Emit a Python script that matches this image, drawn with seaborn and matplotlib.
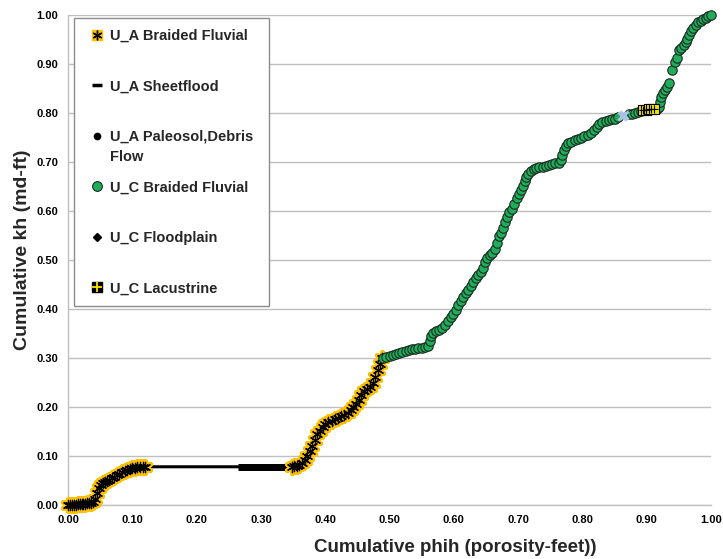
import matplotlib
matplotlib.use("Agg")
import matplotlib.pyplot as plt
from matplotlib.lines import Line2D
from matplotlib.legend_handler import HandlerTuple
import pandas as pd
import seaborn as sns

# ---- cumulative phih / kh per facies ----
ua_braided_phih = [0.000, 0.003, 0.006, 0.009, 0.012, 0.015, 0.018, 0.021, 0.024, 0.027,
                   0.030, 0.033, 0.036, 0.039, 0.042, 0.045, 0.048, 0.051, 0.054, 0.057,
                   0.060, 0.064, 0.068, 0.072, 0.076, 0.080, 0.084, 0.088, 0.092, 0.096,
                   0.100, 0.104, 0.108, 0.112, 0.116, 0.120,
                   0.348, 0.352, 0.356, 0.360, 0.364, 0.368, 0.372, 0.376, 0.380, 0.384,
                   0.388, 0.392, 0.396, 0.400, 0.405, 0.410, 0.415, 0.420, 0.425, 0.430,
                   0.435, 0.440, 0.444, 0.448, 0.452, 0.456, 0.460, 0.465, 0.470, 0.474,
                   0.478, 0.482, 0.485, 0.488]
ua_braided_kh = [0.000, 0.000, 0.001, 0.001, 0.001, 0.002, 0.002, 0.002, 0.003, 0.003,
                 0.004, 0.004, 0.005, 0.007, 0.012, 0.025, 0.035, 0.040, 0.044, 0.047,
                 0.049, 0.052, 0.055, 0.058, 0.061, 0.064, 0.067, 0.069, 0.071, 0.073,
                 0.075, 0.076, 0.077, 0.078, 0.078, 0.078,
                 0.078, 0.079, 0.080, 0.081, 0.085, 0.092, 0.100, 0.110, 0.120, 0.132,
                 0.145, 0.152, 0.160, 0.166, 0.170, 0.172, 0.175, 0.178, 0.181, 0.184,
                 0.188, 0.193, 0.199, 0.206, 0.215, 0.224, 0.232, 0.236, 0.240, 0.250,
                 0.262, 0.276, 0.288, 0.300]

ua_sheet_phih = [0.272, 0.276, 0.280, 0.284, 0.288, 0.292, 0.296, 0.300, 0.304, 0.308,
                 0.312, 0.316, 0.320, 0.324, 0.328, 0.332, 0.336, 0.340, 0.344]
ua_sheet_kh = [0.077, 0.077, 0.077, 0.077, 0.077, 0.077, 0.077, 0.077, 0.077, 0.077,
               0.078, 0.078, 0.078, 0.078, 0.078, 0.078, 0.078, 0.078, 0.078]

uc_braided_phih = [0.490, 0.495, 0.500, 0.505, 0.510, 0.515, 0.520, 0.525, 0.530, 0.535,
                   0.540, 0.545, 0.550, 0.555, 0.560, 0.563, 0.565, 0.568, 0.572, 0.577,
                   0.582, 0.587, 0.591, 0.595, 0.599, 0.603, 0.607, 0.611, 0.615, 0.619,
                   0.622, 0.626, 0.630, 0.634, 0.638, 0.642, 0.646, 0.649, 0.652, 0.656,
                   0.660, 0.664, 0.667, 0.670, 0.673, 0.677, 0.680, 0.683, 0.686, 0.690,
                   0.694, 0.698, 0.701, 0.704, 0.707, 0.710, 0.713, 0.716, 0.720, 0.724,
                   0.728, 0.733, 0.738, 0.743, 0.748, 0.753, 0.758, 0.763, 0.767, 0.769,
                   0.772, 0.775, 0.778, 0.783, 0.788, 0.793, 0.798, 0.803, 0.808, 0.813,
                   0.818, 0.822, 0.826, 0.831, 0.836, 0.841, 0.846, 0.851, 0.856,
                   0.872, 0.877, 0.882, 0.887, 0.891,
                   0.916, 0.919, 0.921, 0.923, 0.926, 0.929, 0.932, 0.935, 0.939, 0.944,
                   0.947, 0.950, 0.954, 0.958, 0.961, 0.963, 0.966, 0.969, 0.972, 0.976,
                   0.980, 0.984, 0.988, 0.992, 0.996, 1.000]
uc_braided_kh = [0.300, 0.302, 0.304, 0.306, 0.308, 0.310, 0.312, 0.314, 0.316, 0.318,
                 0.319, 0.320, 0.321, 0.322, 0.325, 0.335, 0.345, 0.352, 0.356, 0.358,
                 0.362, 0.368, 0.376, 0.383, 0.390, 0.398, 0.408, 0.417, 0.425, 0.432,
                 0.439, 0.447, 0.456, 0.463, 0.469, 0.476, 0.483, 0.495, 0.505, 0.510,
                 0.514, 0.522, 0.535, 0.548, 0.556, 0.566, 0.577, 0.588, 0.598, 0.605,
                 0.614, 0.626, 0.634, 0.642, 0.652, 0.661, 0.670, 0.676, 0.681, 0.685,
                 0.687, 0.689, 0.690, 0.692, 0.693, 0.695, 0.697, 0.698, 0.705, 0.715,
                 0.724, 0.732, 0.738, 0.741, 0.744, 0.747, 0.750, 0.753, 0.756, 0.760,
                 0.765, 0.771, 0.777, 0.781, 0.783, 0.785, 0.787, 0.788, 0.791,
                 0.797, 0.798, 0.800, 0.802, 0.804,
                 0.808, 0.812, 0.822, 0.832, 0.840, 0.847, 0.853, 0.862, 0.888, 0.905,
                 0.912, 0.928, 0.932, 0.938, 0.945, 0.951, 0.960, 0.967, 0.973, 0.980,
                 0.985, 0.988, 0.991, 0.994, 0.997, 1.000]

uc_lacustrine_phih = [0.895, 0.899, 0.903, 0.907, 0.911]
uc_lacustrine_kh = [0.806, 0.807, 0.808, 0.808, 0.809]

uc_minor_phih = [0.861, 0.865]
uc_minor_kh = [0.794, 0.796]

tick_values = [0.0, 0.1, 0.2, 0.3, 0.4, 0.5, 0.6, 0.7, 0.8, 0.9, 1.0]
tick_labels = [f"{v:.2f}" for v in tick_values]

legend_labels = ["U_A Braided Fluvial", "U_A Sheetflood", "U_A Paleosol,Debris",
                 "U_C Braided Fluvial", "U_C Floodplain", "U_C Lacustrine"]

GOLD = "#ffc000"
GREEN = "#1fad5c"
GRID = "#bfbfbf"
FONT = ["Liberation Sans", "DejaVu Sans"]

sns.set_style("white")
plt.rcParams["font.family"] = FONT
plt.rcParams["font.weight"] = "bold"

ua_braided = pd.DataFrame({"phih": ua_braided_phih, "kh": ua_braided_kh})
ua_sheet = pd.DataFrame({"phih": ua_sheet_phih, "kh": ua_sheet_kh})
uc_braided = pd.DataFrame({"phih": uc_braided_phih, "kh": uc_braided_kh})
uc_lac = pd.DataFrame({"phih": uc_lacustrine_phih, "kh": uc_lacustrine_kh})
uc_minor = pd.DataFrame({"phih": uc_minor_phih, "kh": uc_minor_kh})

fig = plt.figure(figsize=(7.23, 5.59), dpi=100)
ax = fig.add_axes([68 / 723, 1 - 505 / 559, (711 - 68) / 723, (505 - 15) / 559])

# connecting line through the U_A braided fluvial run
sns.lineplot(data=ua_braided, x="phih", y="kh", sort=False, estimator=None,
             color="black", linewidth=2.2, ax=ax, zorder=3)

# sheetflood dashes
sns.scatterplot(data=ua_sheet, x="phih", y="kh", marker="_", s=60,
                color="black", linewidth=5, ax=ax, zorder=4)

# braided fluvial stars: gold halo under a black asterisk
star = (6, 2, 0)
sns.scatterplot(data=ua_braided, x="phih", y="kh", marker=star, s=75,
                color=GOLD, linewidth=3.4, ax=ax, zorder=5)
sns.scatterplot(data=ua_braided, x="phih", y="kh", marker=star, s=55,
                color="black", linewidth=0.9, ax=ax, zorder=6)

# U_C braided fluvial circles
sns.scatterplot(data=uc_braided, x="phih", y="kh", marker="o", s=46,
                color=GREEN, edgecolor="#1c2a20", linewidth=0.8, ax=ax, zorder=7)

sns.scatterplot(data=uc_minor, x="phih", y="kh", marker="x", s=35,
                color="#a8c3e3", linewidth=2, ax=ax, zorder=7)

# lacustrine squares
sns.scatterplot(data=uc_lac, x="phih", y="kh", marker="s", s=48,
                color="#f4e600", edgecolor="black", linewidth=0.8, ax=ax, zorder=8)
sns.scatterplot(data=uc_lac, x="phih", y="kh", marker="+", s=40,
                color="black", linewidth=0.8, ax=ax, zorder=9)

for coll in ax.collections:
    coll.set_clip_on(False)
for ln in ax.lines:
    ln.set_clip_on(False)

ax.set_xlim(0, 1)
ax.set_ylim(0, 1)
ax.set_xticks(tick_values)
ax.set_xticklabels(tick_labels)
ax.set_yticks(tick_values)
ax.set_yticklabels(tick_labels)
ax.tick_params(axis="both", which="major", length=4, width=1, color=GRID,
               labelsize=8, labelcolor="black", pad=3, direction="out")
for lab in ax.get_xticklabels() + ax.get_yticklabels():
    lab.set_fontweight("bold")

ax.yaxis.grid(True, color=GRID, linewidth=1)
ax.xaxis.grid(False)
ax.set_axisbelow(True)
for side in ("top", "right"):
    ax.spines[side].set_visible(False)
for side in ("left", "bottom"):
    ax.spines[side].set_color(GRID)
    ax.spines[side].set_linewidth(1)

ax.set_xlabel("Cumulative phih (porosity-feet))", fontsize=13.5, fontweight="bold")
ax.set_ylabel("Cumulative kh (md-ft)", fontsize=14, fontweight="bold")
ax.xaxis.set_label_coords(0.602, -(548 - 505) / 490)
ax.xaxis.label.set_va("center")
ax.yaxis.set_label_coords(-(68 - 23) / 643, 0.52)
ax.yaxis.label.set_va("center")

handles = [
    (Line2D([], [], ls="none", marker="s", ms=7, mfc=GOLD, mec=GOLD),
     Line2D([], [], ls="none", marker=star, ms=7, mec="black", mew=1)),
    Line2D([], [], ls="none", marker="_", ms=7, mec="black", mew=2.5),
    Line2D([], [], ls="none", marker="o", ms=4.5, mfc="black", mec="black"),
    Line2D([], [], ls="none", marker="o", ms=7, mfc=GREEN, mec="#1c2a20", mew=0.8),
    Line2D([], [], ls="none", marker="D", ms=4, mfc="black", mec="black"),
    (Line2D([], [], ls="none", marker="s", ms=7, mfc="black", mec="black"),
     Line2D([], [], ls="none", marker="+", ms=7, mec="#ffe000", mew=1.3)),
]
x0 = (74 - 68) / 643
y_top = (505 - 18) / 490
w = (269 - 74) / 643
leg = ax.legend(handles, legend_labels, handler_map={tuple: HandlerTuple(ndivide=1, pad=0)},
                loc="upper left", bbox_to_anchor=(x0, y_top - 0.5, w, 0.5), mode="expand",
                borderaxespad=0, frameon=True, fancybox=False, framealpha=1,
                edgecolor="#8c8c8c", facecolor="white", labelspacing=2.5, borderpad=0.75,
                handlelength=1.6, handletextpad=0.15, prop={"weight": "bold", "size": 10.5})
leg.get_frame().set_linewidth(1)
ax.annotate("Flow", xy=(0, 0), xycoords=leg.get_texts()[2], xytext=(0, -6),
            textcoords="offset pixels", ha="left", va="top", fontsize=10.5,
            fontweight="bold", zorder=10)

fig.savefig("out.png", dpi=100)
